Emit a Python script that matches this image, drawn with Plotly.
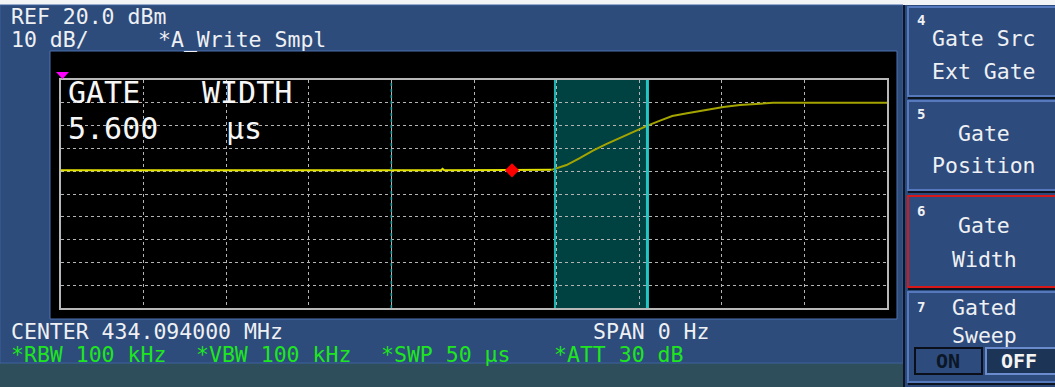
import plotly.graph_objects as go

# ---- trace data (zero-span sweep, 50 us, 10 dB/div, ref 20 dBm) ----
time_us = [0.0, 23.0, 23.1, 23.2, 29.7, 30.0, 30.6, 31.4, 32.2, 33.0, 33.8,
           34.6, 35.5, 36.3, 37.0, 37.9, 38.7, 39.5, 40.1, 41.1, 42.1, 43.1, 50.0]
level_dbm = [-19.6, -19.6, -19.0, -19.6, -19.4, -18.6, -17.3, -14.3, -11.0, -8.1, -5.4,
             -2.7, 0.0, 2.3, 4.2, 5.4, 6.5, 7.4, 8.2, 9.0, 9.5, 10.0, 10.0]

marker_time_us = [27.3]
marker_level_dbm = [-19.6]

gate_start_us = 29.9
gate_width_us = 5.6
trigger_time_us = 20.0

ref_level_dbm = 20.0
db_per_div = 10.0
sweep_us = 50.0

header_lines = ["REF 20.0 dBm", "10 dB/", "*A_Write Smpl"]
footer_white = ["CENTER 434.094000 MHz", "SPAN 0 Hz"]
footer_green = ["*RBW 100 kHz", "*VBW 100 kHz", "*SWP 50 µs", "*ATT 30 dB"]
softkeys = [("4", ["Gate Src", "Ext Gate"]), ("5", ["Gate", "Position"]),
            ("6", ["Gate", "Width"]), ("7", ["Gated", "Sweep"])]

# ---- canvas geometry ----
W, H = 1055, 387
L, R, T, B = 61, 887, 80, 308


def px(x):
    return (x - L) / (R - L)


def py(y):
    return (B - y) / (B - T)


MONO = "DejaVu Sans Mono"
BLUE = "#2d4b7b"
fig = go.Figure()

split = time_us.index(29.7)
fig.add_trace(go.Scatter(x=time_us[:split + 1], y=level_dbm[:split + 1], mode="lines",
                         line=dict(color="#e2e200", width=2), hoverinfo="skip"))
fig.add_trace(go.Scatter(x=time_us[split:], y=level_dbm[split:], mode="lines",
                         line=dict(color="#a4a400", width=2), hoverinfo="skip"))
fig.add_trace(go.Scatter(x=marker_time_us, y=marker_level_dbm, mode="markers",
                         marker=dict(symbol="diamond", size=11, color="#ff0000",
                                     line=dict(width=0)), hoverinfo="skip"))

y_bottom = ref_level_dbm - 10 * db_per_div
shapes = []


def rect(x0, y0, x1, y1, fill, line=None, lw=0, layer="below"):
    shapes.append(dict(type="rect", xref="paper", yref="paper",
                       x0=px(x0), x1=px(x1), y0=py(y1), y1=py(y0),
                       fillcolor=fill, line=dict(color=line or fill, width=lw), layer=layer))


# instrument panels
rect(0, 0, W, 5, "#f2f4f6")
rect(0, 363, 905, H, "#2e4e5c")
rect(0, 5, 903, 363, BLUE, "#3f63a0", 1)
rect(50, 51, 897, 319, "#000000", "#4e72b2", 1)
rect(903, 5, 905, H, "#0e1626")
rect(905, 5, W, H, "#2b497a")
for i, (y0, y1) in enumerate([(7, 96), (101, 190), (196, 287), (292, 382)]):
    rect(908, y0, W + 4, y1, "#2d4b7c", "#d81818" if i == 2 else "#5679bd", 2)
    rect(908, y1 + 1, W, y1 + 3, "#0c1420")
rect(915, 348, 982, 374, "#2d4b7c", "#0a0f1a", 2)
rect(986, 348, W + 4, 374, "#1c3557", "#6a8ccc", 2)

# gate window and trigger line
shapes.append(dict(type="rect", xref="x", yref="y", x0=gate_start_us,
                   x1=gate_start_us + gate_width_us, y0=y_bottom, y1=ref_level_dbm,
                   fillcolor="#004242", line=dict(width=0), layer="below"))
shapes.append(dict(type="line", xref="x", yref="y", x0=gate_start_us, x1=gate_start_us,
                   y0=y_bottom, y1=ref_level_dbm, line=dict(color="#1fb5b5", width=2)))
shapes.append(dict(type="line", xref="x", yref="y", x0=gate_start_us + gate_width_us,
                   x1=gate_start_us + gate_width_us, y0=y_bottom, y1=ref_level_dbm,
                   line=dict(color="#22c4c4", width=3)))
shapes.append(dict(type="line", xref="x", yref="y", x0=trigger_time_us, x1=trigger_time_us,
                   y0=y_bottom, y1=ref_level_dbm,
                   line=dict(color="#2aa8a8", width=1.5, dash="dot")))

# reference level marker
shapes.append(dict(type="path", xref="paper", yref="paper",
                   path=f"M {px(56)},{py(72)} L {px(69)},{py(72)} L {px(62.5)},{py(79)} Z",
                   fillcolor="#ff00ff", line=dict(width=0)))

annotations = []


def text(s, x, y, size=21.5, color="#eef0f4", anchor="left", weight="normal", pad=1):
    annotations.append(dict(text=s, xref="paper", yref="paper", x=px(x), y=py(y),
                            xanchor=anchor, yanchor="middle", showarrow=False, borderpad=pad,
                            font=dict(family=MONO, size=size, color=color, weight=weight)))


text(header_lines[0], 9, 17)
text(header_lines[1], 9, 39)
text(header_lines[2], 156, 39)
text(footer_white[0], 9, 331)
text(footer_white[1], 591, 331)
GREEN = "#1ee61e"
for s, x in zip(footer_green, [9, 194, 379, 552]):
    text(s, x, 354, color=GREEN)

# gate width readout
BIG = 30
text("GATE", 67, 92.5, size=BIG, color="#f6f6f6", pad=0)
text("WIDTH", 201, 92.5, size=BIG, color="#f6f6f6", pad=0)
text("5.600", 67, 128, size=BIG, color="#f6f6f6", pad=0)
text("µs", 225, 128, size=BIG, color="#f6f6f6", pad=0)

# softkey labels
key_rows = [(20, 38.5, 71.5), (114, 133.5, 165.5), (211, 225.5, 259.5), (307, 307.5, 335)]
for (num, lines), (yn, y1, y2) in zip(softkeys, key_rows):
    text(num, 921, yn, size=14, anchor="center", weight="bold")
    text(lines[0], 984, y1, anchor="center")
    text(lines[1], 984, y2, anchor="center")
text("ON", 948, 361, size=20, color="#0b1626", anchor="center", weight="bold")
text("OFF", 1019, 361, size=20, color="#f4f4f4", anchor="center", weight="bold")

axis_common = dict(showgrid=True, gridcolor="#b4b4b4", griddash="dot", gridwidth=1,
                   showticklabels=False, ticks="", zeroline=False, showline=True,
                   linecolor="#b8b8b8", linewidth=2, mirror=True, fixedrange=True)
fig.update_layout(
    width=W, height=H, autosize=False,
    margin=dict(l=L, r=W - R, t=T, b=H - B, pad=0),
    paper_bgcolor=BLUE, plot_bgcolor="#000000",
    showlegend=False,
    xaxis=dict(range=[0, sweep_us], dtick=sweep_us / 10, **axis_common),
    yaxis=dict(range=[y_bottom, ref_level_dbm], dtick=db_per_div, **axis_common),
    shapes=shapes, annotations=annotations,
)

fig.write_html("out.html")
